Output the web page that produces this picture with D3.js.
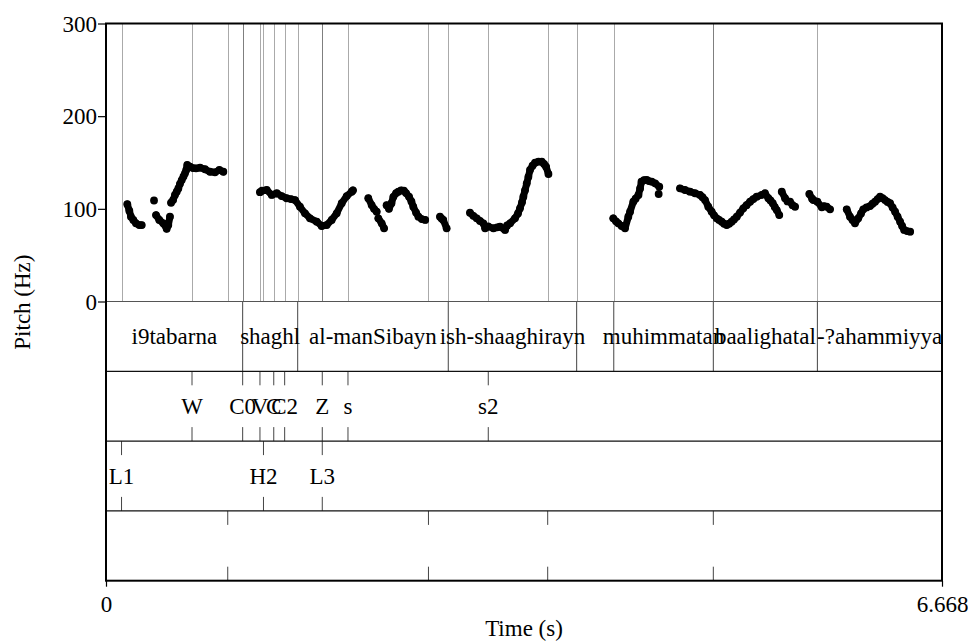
<!DOCTYPE html>
<html>
<head>
<meta charset="utf-8">
<script src="https://cdn.jsdelivr.net/npm/d3@7"></script>
<style>
  body { margin: 0; background: #fff; }
  svg text { font-family: "Liberation Serif", "Times New Roman", serif; fill: #000; }
</style>
</head>
<body>
<div id="chart"></div>
<script>
// time axis and pitch range
var duration = 6.668;
var pitchTicks = [0, 100, 200, 300];

// word tier (interval tier): boundaries in s and labels
var wordBounds = [0, 1.090, 1.529, 2.730, 3.754, 4.050, 4.844, 5.674, 6.668];
var wordLabels = ["i9tabarna", "shaghl", "al-manSibayn", "ish-shaaghirayn", "", "muhimmatan", "baalighatal", "-?ahammiyya"];

// point tiers
var segTimes = [0.686, 1.090, 1.228, 1.338, 1.425, 1.725, 1.930, 3.049];
var segLabels = ["W", "C0", "V", "C", "C2", "Z", "s", "s2"];
var toneTimes = [0.124, 1.256, 1.725];
var toneLabels = ["L1", "H2", "L3"];
var breakTimes = [0.971, 2.572, 3.523, 4.844];
var breakLabels = ["", "", "", ""];

// pitch track: [time (s), F0 (Hz)], one list per voiced stretch
var pitchSegments = [
  [[0.170, 105], [0.186, 98], [0.199, 91.5], [0.218, 88], [0.239, 84.4], [0.266, 82.5], [0.285, 82.5]],
  [[0.383, 109]],
  [[0.399, 93.3], [0.425, 88], [0.457, 84.4], [0.484, 78.5], [0.497, 82.5], [0.510, 91.5]],
  [[0.519, 106.6], [0.535, 109.5], [0.550, 115], [0.564, 118.5], [0.577, 122], [0.590, 127], [0.604, 131],
   [0.618, 135], [0.630, 138.3], [0.640, 142], [0.648, 147.3], [0.670, 145.5], [0.694, 144], [0.718, 143.7],
   [0.750, 144.4], [0.790, 142.7], [0.830, 140], [0.869, 139.4], [0.904, 141.9], [0.936, 140]],
  [[1.228, 118], [1.244, 119.5], [1.282, 120.3], [1.322, 115], [1.362, 116.8], [1.401, 113.8], [1.441, 111.4],
   [1.476, 110.5], [1.508, 109.5], [1.547, 102.3], [1.587, 95.2], [1.627, 89.8], [1.681, 86.1], [1.720, 81.5],
   [1.760, 82.5], [1.800, 88], [1.840, 95.2], [1.880, 106], [1.920, 113.8], [1.960, 118.5], [1.970, 120]],
  [[2.092, 111.4], [2.119, 104.1], [2.138, 100], [2.159, 96.9]],
  [[2.172, 89.8], [2.199, 84.4], [2.218, 79]],
  [[2.238, 104], [2.257, 100], [2.277, 106], [2.292, 113], [2.314, 117], [2.332, 118.5], [2.354, 120],
   [2.376, 119.6], [2.393, 117], [2.417, 113.1], [2.436, 108], [2.451, 102.3], [2.473, 96], [2.492, 91.5],
   [2.519, 89], [2.546, 88]],
  [[2.664, 91.5], [2.677, 89.5], [2.690, 88], [2.717, 79]],
  [[2.903, 95.8], [2.930, 92.5], [2.957, 89.8], [2.983, 87], [3.010, 84.4], [3.024, 79], [3.048, 81],
   [3.090, 79], [3.120, 80], [3.143, 80.7], [3.183, 77.2], [3.199, 82], [3.223, 84.4], [3.262, 89.8],
   [3.286, 95], [3.302, 100.6], [3.318, 107], [3.329, 113.1], [3.342, 120], [3.356, 127.5], [3.369, 134.5],
   [3.382, 141.9], [3.402, 146.5], [3.422, 149.8], [3.450, 151], [3.476, 150.9], [3.494, 148.5],
   [3.510, 145.5], [3.529, 137.6]],
  [[4.046, 89.8], [4.068, 86.5], [4.086, 84.4], [4.113, 81.5], [4.140, 79], [4.166, 91.5], [4.180, 96.9],
   [4.206, 107.7], [4.224, 111], [4.247, 115], [4.260, 122], [4.271, 129.3], [4.291, 131], [4.313, 131.1],
   [4.331, 130], [4.353, 129.3], [4.380, 127.5], [4.413, 123.9]],
  [[4.408, 116]],
  [[4.578, 122.1], [4.618, 120.3], [4.658, 118.5], [4.698, 116.8], [4.738, 115], [4.758, 112.5], [4.778, 109.5],
   [4.804, 102.3], [4.831, 96.9], [4.850, 93], [4.871, 89.8], [4.890, 88], [4.911, 86.1], [4.930, 84],
   [4.951, 82.5], [4.970, 84], [4.990, 86.1], [5.009, 88.5], [5.031, 91.5], [5.057, 96], [5.083, 100.6],
   [5.109, 104], [5.137, 107.7], [5.163, 110.5], [5.190, 113.1], [5.230, 115], [5.256, 116.8], [5.283, 111.4],
   [5.300, 109], [5.318, 106], [5.334, 102], [5.350, 98.7], [5.370, 93.3]],
  [[5.390, 118.5], [5.416, 111.4], [5.436, 108], [5.456, 107.7], [5.476, 104], [5.496, 102.3]],
  [[5.610, 116], [5.632, 111], [5.642, 109.5], [5.674, 107.7], [5.709, 101.6], [5.727, 103], [5.748, 102.3],
   [5.775, 99.5]],
  [[5.908, 99.5], [5.934, 91.5], [5.954, 88], [5.974, 84.4], [6.000, 89.8], [6.022, 95], [6.040, 99.5],
   [6.066, 101.5], [6.094, 103], [6.114, 105.5], [6.134, 107.7], [6.154, 110.5], [6.174, 113.1], [6.194, 111.5],
   [6.214, 109.5], [6.234, 107.5], [6.254, 106], [6.274, 101.5], [6.294, 96.9], [6.314, 91.5], [6.334, 86.1],
   [6.350, 81.5], [6.366, 77.2], [6.390, 76], [6.414, 75.3]]
];

var W = 968, H = 642;
var plotLeft = 106, plotRight = 942, plotTop = 23.5, pitchBottom = 301.5;
var tierH = 69.8;
var fontSize = 23;

var svg = d3.select("#chart").append("svg")
    .attr("width", W)
    .attr("height", H);

var x = d3.scaleLinear().domain([0, duration]).range([plotLeft, plotRight]);
var y = d3.scaleLinear().domain([0, 300]).range([pitchBottom, plotTop]);

// tier rows
var tierTop = function(i) { return pitchBottom + i * tierH; };
var plotBottom = tierTop(4);

// dotted lines through the pitch area at every boundary / point
var allTimes = wordBounds.slice(1, -1).concat(segTimes, toneTimes, breakTimes);
svg.append("g").selectAll("line")
    .data(allTimes)
    .enter().append("line")
    .attr("x1", function(d) { return Math.round(x(d)) + 0.5; })
    .attr("x2", function(d) { return Math.round(x(d)) + 0.5; })
    .attr("y1", plotTop)
    .attr("y2", pitchBottom)
    .attr("stroke", "#555")
    .attr("stroke-width", 1)
    .attr("stroke-dasharray", "1,1");

// pitch track
var line = d3.line()
    .x(function(d) { return x(d[0]); })
    .y(function(d) { return y(d[1]); });

var pg = svg.append("g");
pg.selectAll("path")
    .data(pitchSegments.filter(function(s) { return s.length > 1; }))
    .enter().append("path")
    .attr("d", line)
    .attr("fill", "none")
    .attr("stroke", "#000")
    .attr("stroke-width", 7)
    .attr("stroke-linecap", "round")
    .attr("stroke-linejoin", "round");
pg.selectAll("circle")
    .data(pitchSegments.flat())
    .enter().append("circle")
    .attr("cx", function(d) { return x(d[0]); })
    .attr("cy", function(d) { return y(d[1]); })
    .attr("r", 3.9)
    .attr("fill", "#000");

// word tier
var words = wordLabels.map(function(l, i) { return {label: l, t0: wordBounds[i], t1: wordBounds[i + 1]}; });
var tg1 = svg.append("g");
tg1.selectAll("line")
    .data(wordBounds.slice(1, -1))
    .enter().append("line")
    .attr("x1", function(d) { return x(d); })
    .attr("x2", function(d) { return x(d); })
    .attr("y1", tierTop(0))
    .attr("y2", tierTop(1))
    .attr("stroke", "#444")
    .attr("stroke-width", 1);
tg1.selectAll("text")
    .data(words)
    .enter().append("text")
    .attr("x", function(d) { return (x(d.t0) + x(d.t1)) / 2; })
    .attr("y", tierTop(0) + tierH / 2 + 7.5)
    .attr("text-anchor", "middle")
    .attr("font-size", fontSize)
    .text(function(d) { return d.label; });

// point tiers
function pointTier(i, times, labels) {
  var g = svg.append("g");
  var pts = times.map(function(t, k) { return {t: t, label: labels[k]}; });
  var t0 = tierTop(i), t1 = tierTop(i + 1);
  g.selectAll("line.top")
      .data(pts).enter().append("line")
      .attr("x1", function(d) { return x(d.t); })
      .attr("x2", function(d) { return x(d.t); })
      .attr("y1", t0).attr("y2", t0 + 14)
      .attr("stroke", "#444");
  g.selectAll("line.bot")
      .data(pts).enter().append("line")
      .attr("x1", function(d) { return x(d.t); })
      .attr("x2", function(d) { return x(d.t); })
      .attr("y1", t1 - 14).attr("y2", t1)
      .attr("stroke", "#444");
  g.selectAll("text")
      .data(pts).enter().append("text")
      .attr("x", function(d) { return x(d.t); })
      .attr("y", t0 + tierH / 2 + 7.5)
      .attr("text-anchor", "middle")
      .attr("font-size", fontSize)
      .text(function(d) { return d.label; });
}
pointTier(1, segTimes, segLabels);
pointTier(2, toneTimes, toneLabels);
pointTier(3, breakTimes, breakLabels);

// tier separators
svg.append("g").selectAll("line")
    .data([0, 1, 2, 3])
    .enter().append("line")
    .attr("x1", plotLeft).attr("x2", plotRight)
    .attr("y1", function(d) { return tierTop(d); })
    .attr("y2", function(d) { return tierTop(d); })
    .attr("stroke", function(d) { return d == 0 ? "#555" : "#111"; })
    .attr("stroke-width", function(d) { return d == 0 ? 1 : 1.3; });

// frame
svg.append("rect")
    .attr("x", plotLeft).attr("y", plotTop)
    .attr("width", plotRight - plotLeft).attr("height", plotBottom - plotTop)
    .attr("fill", "none")
    .attr("stroke", "#000")
    .attr("stroke-width", 2);

// y axis
var yAxis = svg.append("g")
    .attr("transform", "translate(" + plotLeft + ",0)")
    .call(d3.axisLeft(y).tickValues(pitchTicks).tickSize(8).tickPadding(1).tickFormat(d3.format("d")));
yAxis.select(".domain").remove();
yAxis.selectAll("line").attr("stroke", "#000").attr("stroke-width", 1.2);
yAxis.selectAll("text").attr("font-size", fontSize).attr("font-family", "Liberation Serif, serif").attr("dy", "0.33em");

// x axis
var xAxis = svg.append("g")
    .attr("transform", "translate(0," + plotBottom + ")")
    .call(d3.axisBottom(x).tickValues([0, duration]).tickSize(6).tickPadding(9)
      .tickFormat(function(d) { return d == 0 ? "0" : d3.format(".3f")(d); }));
xAxis.select(".domain").remove();
xAxis.selectAll("line").attr("stroke", "#000").attr("stroke-width", 1.2);
xAxis.selectAll("text").attr("font-size", fontSize).attr("font-family", "Liberation Serif, serif");

// axis titles
svg.append("text")
    .attr("x", (plotLeft + plotRight) / 2)
    .attr("y", 636)
    .attr("text-anchor", "middle")
    .attr("font-size", fontSize)
    .text("Time (s)");

svg.append("text")
    .attr("transform", "translate(30," + (plotTop + plotBottom) / 2 + ") rotate(-90)")
    .attr("text-anchor", "middle")
    .attr("font-size", fontSize)
    .text("Pitch (Hz)");
</script>
</body>
</html>
